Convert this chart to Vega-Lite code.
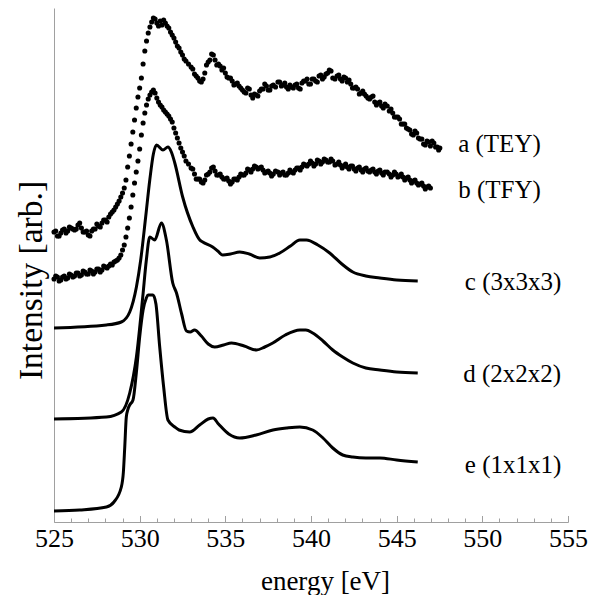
{
"$schema":"https://vega.github.io/schema/vega-lite/v6.json",
"width":514,"height":514,
"autosize":"none",
"padding":{"left":54,"top":8,"right":21,"bottom":73},
"config":{"view":{"stroke":null},"font":"Liberation Serif, Times New Roman, serif","axis":{"grid":false,"labelFont":"Liberation Serif, Times New Roman, serif","titleFont":"Liberation Serif, Times New Roman, serif","titleFontWeight":"normal","titleColor":"black","labelColor":"black","domainColor":"#a0a0a0","tickColor":"#a0a0a0"},"text":{"font":"Liberation Serif, Times New Roman, serif"}},
"datasets":{
"lines":[
{"s":"c","x":525.0,"y":194},{"s":"c","x":528.06,"y":197},{"s":"c","x":528.93,"y":200},{"s":"c","x":529.42,"y":210},{"s":"c","x":529.81,"y":235},{"s":"c","x":530.06,"y":262},{"s":"c","x":530.35,"y":305},{"s":"c","x":530.59,"y":342},{"s":"c","x":530.8,"y":368},{"s":"c","x":530.98,"y":377},{"s":"c","x":531.36,"y":372},{"s":"c","x":531.65,"y":375},{"s":"c","x":531.85,"y":370},{"s":"c","x":532.05,"y":359},{"s":"c","x":532.51,"y":325},{"s":"c","x":533.11,"y":295},{"s":"c","x":533.51,"y":282},{"s":"c","x":533.68,"y":280},{"s":"c","x":534.26,"y":275},{"s":"c","x":534.56,"y":271},{"s":"c","x":534.85,"y":267},{"s":"c","x":535.3,"y":268},{"s":"c","x":535.84,"y":270},{"s":"c","x":536.4,"y":268},{"s":"c","x":537.01,"y":264},{"s":"c","x":537.6,"y":265},{"s":"c","x":538.18,"y":269},{"s":"c","x":538.8,"y":276},{"s":"c","x":539.35,"y":282},{"s":"c","x":539.73,"y":282},{"s":"c","x":540.4,"y":277},{"s":"c","x":541.09,"y":269},{"s":"c","x":541.8,"y":258},{"s":"c","x":542.44,"y":250},{"s":"c","x":543.2,"y":246},{"s":"c","x":544.02,"y":244},{"s":"c","x":545.0,"y":242},{"s":"c","x":546.23,"y":241},
{"s":"d","x":525.0,"y":103},{"s":"d","x":528.06,"y":105},{"s":"d","x":528.93,"y":110},{"s":"d","x":529.42,"y":129},{"s":"d","x":529.81,"y":165},{"s":"d","x":530.18,"y":225},{"s":"d","x":530.39,"y":262},{"s":"d","x":530.59,"y":285},{"s":"d","x":530.88,"y":282},{"s":"d","x":531.27,"y":299},{"s":"d","x":531.56,"y":282},{"s":"d","x":531.93,"y":239},{"s":"d","x":532.15,"y":229},{"s":"d","x":532.45,"y":208},{"s":"d","x":532.73,"y":191},{"s":"d","x":532.95,"y":190},{"s":"d","x":533.2,"y":192},{"s":"d","x":533.6,"y":186},{"s":"d","x":534.0,"y":178},{"s":"d","x":534.38,"y":175},{"s":"d","x":534.9,"y":177},{"s":"d","x":535.36,"y":179},{"s":"d","x":536.1,"y":176},{"s":"d","x":536.82,"y":172},{"s":"d","x":537.3,"y":175},{"s":"d","x":537.77,"y":179},{"s":"d","x":538.5,"y":187},{"s":"d","x":539.35,"y":192},{"s":"d","x":539.7,"y":192},{"s":"d","x":540.1,"y":189},{"s":"d","x":540.7,"y":181},{"s":"d","x":541.27,"y":172},{"s":"d","x":541.85,"y":165},{"s":"d","x":542.44,"y":159},{"s":"d","x":543.2,"y":154},{"s":"d","x":544.02,"y":152},{"s":"d","x":545.0,"y":150},{"s":"d","x":546.23,"y":149},
{"s":"e","x":525.0,"y":11},{"s":"e","x":526.5,"y":12},{"s":"e","x":528.06,"y":15},{"s":"e","x":528.5,"y":20},{"s":"e","x":528.93,"y":35},{"s":"e","x":529.05,"y":50},{"s":"e","x":529.13,"y":75},{"s":"e","x":529.22,"y":105},{"s":"e","x":529.32,"y":113},{"s":"e","x":529.42,"y":117},{"s":"e","x":529.61,"y":122},{"s":"e","x":529.81,"y":150},{"s":"e","x":530.0,"y":185},{"s":"e","x":530.2,"y":212},{"s":"e","x":530.39,"y":224},{"s":"e","x":530.49,"y":227},{"s":"e","x":530.78,"y":227},{"s":"e","x":530.95,"y":218},{"s":"e","x":531.17,"y":175},{"s":"e","x":531.4,"y":135},{"s":"e","x":531.65,"y":102},{"s":"e","x":532.05,"y":95},{"s":"e","x":532.3,"y":92},{"s":"e","x":532.92,"y":90},{"s":"e","x":533.5,"y":97},{"s":"e","x":534.0,"y":103},{"s":"e","x":534.28,"y":104},{"s":"e","x":534.6,"y":98},{"s":"e","x":535.2,"y":88},{"s":"e","x":535.84,"y":84},{"s":"e","x":536.8,"y":87},{"s":"e","x":537.78,"y":92},{"s":"e","x":538.6,"y":94},{"s":"e","x":539.35,"y":95},{"s":"e","x":540.1,"y":92},{"s":"e","x":540.7,"y":84},{"s":"e","x":541.27,"y":74},{"s":"e","x":541.85,"y":67},{"s":"e","x":542.44,"y":65},{"s":"e","x":543.2,"y":64},{"s":"e","x":544.02,"y":64},{"s":"e","x":545.0,"y":62},{"s":"e","x":546.23,"y":60}
],
"dots":[
{"s":"a","x":525.0,"y":290},{"s":"a","x":525.2,"y":286},{"s":"a","x":525.4,"y":289},{"s":"a","x":525.6,"y":293},{"s":"a","x":525.8,"y":291},{"s":"a","x":526.0,"y":294},{"s":"a","x":526.2,"y":292},{"s":"a","x":526.4,"y":297},{"s":"a","x":526.6,"y":294},{"s":"a","x":526.8,"y":290},{"s":"a","x":527.0,"y":287},{"s":"a","x":527.2,"y":291},{"s":"a","x":527.4,"y":293},{"s":"a","x":527.6,"y":296},{"s":"a","x":527.8,"y":299},{"s":"a","x":528.0,"y":302},{"s":"a","x":528.2,"y":305},{"s":"a","x":528.3,"y":308},{"s":"a","x":528.4,"y":310},{"s":"a","x":528.5,"y":312},{"s":"a","x":528.6,"y":315},{"s":"a","x":528.7,"y":318},{"s":"a","x":528.8,"y":321},{"s":"a","x":528.9,"y":325},{"s":"a","x":529.0,"y":329},{"s":"a","x":529.1,"y":334},{"s":"a","x":529.2,"y":342},{"s":"a","x":529.3,"y":355},{"s":"a","x":529.4,"y":366},{"s":"a","x":529.5,"y":378},{"s":"a","x":529.6,"y":390},{"s":"a","x":529.7,"y":402},{"s":"a","x":529.8,"y":414},{"s":"a","x":529.9,"y":425},{"s":"a","x":530.0,"y":434},{"s":"a","x":530.1,"y":444},{"s":"a","x":530.2,"y":458},{"s":"a","x":530.3,"y":471},{"s":"a","x":530.4,"y":481},{"s":"a","x":530.5,"y":489},{"s":"a","x":530.6,"y":495},{"s":"a","x":530.7,"y":500},{"s":"a","x":530.8,"y":504},{"s":"a","x":530.9,"y":503},{"s":"a","x":531.0,"y":499},{"s":"a","x":531.1,"y":496},{"s":"a","x":531.2,"y":501},{"s":"a","x":531.3,"y":497},{"s":"a","x":531.4,"y":502},{"s":"a","x":531.5,"y":499},{"s":"a","x":531.6,"y":496},{"s":"a","x":531.7,"y":494},{"s":"a","x":531.8,"y":490},{"s":"a","x":531.9,"y":487},{"s":"a","x":532.0,"y":484},{"s":"a","x":532.1,"y":480},{"s":"a","x":532.2,"y":476},{"s":"a","x":532.3,"y":474},{"s":"a","x":532.4,"y":470},{"s":"a","x":532.5,"y":467},{"s":"a","x":532.6,"y":463},{"s":"a","x":532.7,"y":461},
{"s":"a","x":533.0,"y":455},{"s":"a","x":533.2,"y":448},{"s":"a","x":533.4,"y":444},{"s":"a","x":533.6,"y":440},{"s":"a","x":533.8,"y":449},{"s":"a","x":534.0,"y":460},{"s":"a","x":534.2,"y":468},{"s":"a","x":534.4,"y":462},{"s":"a","x":534.6,"y":458},{"s":"a","x":534.8,"y":452},{"s":"a","x":535.0,"y":449},{"s":"a","x":535.2,"y":444},{"s":"a","x":535.4,"y":441},{"s":"a","x":535.6,"y":438},{"s":"a","x":535.8,"y":436},{"s":"a","x":536.0,"y":432},{"s":"a","x":536.2,"y":429},{"s":"a","x":536.4,"y":433},{"s":"a","x":536.6,"y":424},{"s":"a","x":536.8,"y":427},{"s":"a","x":537.0,"y":431},{"s":"a","x":537.2,"y":433},{"s":"a","x":537.4,"y":436},{"s":"a","x":537.6,"y":432},{"s":"a","x":537.8,"y":437},
{"s":"a","x":538.07,"y":440},{"s":"a","x":538.27,"y":436},{"s":"a","x":538.47,"y":439},{"s":"a","x":538.67,"y":433},{"s":"a","x":538.87,"y":435},{"s":"a","x":539.07,"y":437},{"s":"a","x":539.27,"y":434},{"s":"a","x":539.47,"y":439},{"s":"a","x":539.67,"y":441},{"s":"a","x":539.87,"y":438},{"s":"a","x":540.07,"y":443},{"s":"a","x":540.27,"y":441},{"s":"a","x":540.47,"y":446},{"s":"a","x":540.67,"y":443},{"s":"a","x":540.87,"y":448},{"s":"a","x":541.07,"y":452},{"s":"a","x":541.27,"y":444},
{"s":"a","x":541.52,"y":446},{"s":"a","x":541.72,"y":443},{"s":"a","x":541.92,"y":445},{"s":"a","x":542.12,"y":440},{"s":"a","x":542.32,"y":438},{"s":"a","x":542.52,"y":434},{"s":"a","x":542.72,"y":433},{"s":"a","x":542.92,"y":429},{"s":"a","x":543.12,"y":428},{"s":"a","x":543.32,"y":424},{"s":"a","x":543.52,"y":425},{"s":"a","x":543.72,"y":420},{"s":"a","x":543.92,"y":419},{"s":"a","x":544.12,"y":416},{"s":"a","x":544.32,"y":418},
{"s":"a","x":544.57,"y":411},{"s":"a","x":544.77,"y":409},{"s":"a","x":544.97,"y":405},{"s":"a","x":545.17,"y":403},{"s":"a","x":545.37,"y":398},{"s":"a","x":545.57,"y":394},{"s":"a","x":545.77,"y":392},{"s":"a","x":545.97,"y":387},{"s":"a","x":546.17,"y":389},{"s":"a","x":546.37,"y":383},{"s":"a","x":546.57,"y":378},{"s":"a","x":546.77,"y":381},{"s":"a","x":546.97,"y":376},{"s":"a","x":547.17,"y":379},{"s":"a","x":547.37,"y":375},{"s":"a","x":547.52,"y":374},
{"s":"a","x":525.1,"y":291},{"s":"a","x":525.3,"y":286},{"s":"a","x":525.5,"y":292},{"s":"a","x":525.7,"y":289},{"s":"a","x":525.9,"y":295},{"s":"a","x":526.1,"y":293},{"s":"a","x":526.3,"y":293},{"s":"a","x":526.5,"y":299},{"s":"a","x":526.7,"y":290},{"s":"a","x":526.9,"y":291},{"s":"a","x":527.1,"y":286},{"s":"a","x":527.3,"y":293},{"s":"a","x":527.5,"y":298},{"s":"a","x":527.7,"y":295},{"s":"a","x":527.9,"y":302},{"s":"a","x":528.1,"y":300},
{"s":"a","x":532.85,"y":458},{"s":"a","x":533.1,"y":453},{"s":"a","x":533.3,"y":446},{"s":"a","x":533.5,"y":441},{"s":"a","x":533.7,"y":443},{"s":"a","x":533.9,"y":457},{"s":"a","x":534.1,"y":462},{"s":"a","x":534.3,"y":467},{"s":"a","x":534.5,"y":457},{"s":"a","x":534.7,"y":456},{"s":"a","x":534.9,"y":454},{"s":"a","x":535.1,"y":445},{"s":"a","x":535.3,"y":444},{"s":"a","x":535.5,"y":437},{"s":"a","x":535.7,"y":439},{"s":"a","x":535.9,"y":434},{"s":"a","x":536.1,"y":430},{"s":"a","x":536.3,"y":434},{"s":"a","x":536.5,"y":427},{"s":"a","x":536.7,"y":428},{"s":"a","x":536.9,"y":426},{"s":"a","x":537.1,"y":433},{"s":"a","x":537.3,"y":438},{"s":"a","x":537.5,"y":432},{"s":"a","x":537.7,"y":436},{"s":"a","x":537.93,"y":435},
{"s":"a","x":538.17,"y":440},{"s":"a","x":538.37,"y":437},{"s":"a","x":538.57,"y":435},{"s":"a","x":538.77,"y":437},{"s":"a","x":538.97,"y":434},{"s":"a","x":539.17,"y":438},{"s":"a","x":539.37,"y":433},{"s":"a","x":539.57,"y":441},{"s":"a","x":539.77,"y":443},{"s":"a","x":539.97,"y":438},{"s":"a","x":540.17,"y":443},{"s":"a","x":540.37,"y":440},{"s":"a","x":540.57,"y":447},{"s":"a","x":540.77,"y":445},{"s":"a","x":540.97,"y":449},{"s":"a","x":541.17,"y":451},{"s":"a","x":541.4,"y":443},
{"s":"a","x":541.62,"y":447},{"s":"a","x":541.82,"y":441},{"s":"a","x":542.02,"y":444},{"s":"a","x":542.22,"y":442},{"s":"a","x":542.42,"y":434},{"s":"a","x":542.62,"y":435},{"s":"a","x":542.82,"y":428},{"s":"a","x":543.02,"y":431},{"s":"a","x":543.22,"y":426},{"s":"a","x":543.42,"y":423},{"s":"a","x":543.62,"y":426},{"s":"a","x":543.82,"y":417},{"s":"a","x":544.02,"y":420},{"s":"a","x":544.22,"y":414},{"s":"a","x":544.45,"y":416},
{"s":"a","x":544.67,"y":413},{"s":"a","x":544.87,"y":405},{"s":"a","x":545.07,"y":405},{"s":"a","x":545.27,"y":398},{"s":"a","x":545.47,"y":398},{"s":"a","x":545.67,"y":393},{"s":"a","x":545.87,"y":388},{"s":"a","x":546.07,"y":391},{"s":"a","x":546.27,"y":384},{"s":"a","x":546.47,"y":383},{"s":"a","x":546.67,"y":377},{"s":"a","x":546.87,"y":380},{"s":"a","x":547.07,"y":381},{"s":"a","x":547.27,"y":375},{"s":"a","x":547.45,"y":372},
{"s":"b","x":525.0,"y":243},{"s":"b","x":525.2,"y":245},{"s":"b","x":525.4,"y":242},{"s":"b","x":525.6,"y":246},{"s":"b","x":525.8,"y":244},{"s":"b","x":526.0,"y":247},{"s":"b","x":526.2,"y":246},{"s":"b","x":526.4,"y":249},{"s":"b","x":526.6,"y":247},{"s":"b","x":526.8,"y":250},{"s":"b","x":527.0,"y":248},{"s":"b","x":527.2,"y":251},{"s":"b","x":527.4,"y":250},{"s":"b","x":527.6,"y":253},{"s":"b","x":527.8,"y":252},{"s":"b","x":528.0,"y":255},{"s":"b","x":528.2,"y":256},{"s":"b","x":528.3,"y":258},{"s":"b","x":528.4,"y":257},{"s":"b","x":528.5,"y":260},{"s":"b","x":528.6,"y":261},{"s":"b","x":528.7,"y":262},{"s":"b","x":528.8,"y":264},{"s":"b","x":528.9,"y":267},{"s":"b","x":529.0,"y":272},{"s":"b","x":529.1,"y":277},{"s":"b","x":529.2,"y":285},{"s":"b","x":529.3,"y":294},{"s":"b","x":529.4,"y":304},{"s":"b","x":529.5,"y":315},{"s":"b","x":529.6,"y":327},{"s":"b","x":529.7,"y":339},{"s":"b","x":529.8,"y":350},{"s":"b","x":529.9,"y":361},{"s":"b","x":530.0,"y":373},{"s":"b","x":530.1,"y":387},{"s":"b","x":530.2,"y":399},{"s":"b","x":530.3,"y":409},{"s":"b","x":530.4,"y":417},{"s":"b","x":530.5,"y":423},{"s":"b","x":530.6,"y":427},{"s":"b","x":530.7,"y":430},{"s":"b","x":530.8,"y":432},{"s":"b","x":530.9,"y":429},{"s":"b","x":531.0,"y":424},{"s":"b","x":531.1,"y":420},{"s":"b","x":531.2,"y":417},{"s":"b","x":531.3,"y":415},{"s":"b","x":531.4,"y":412},{"s":"b","x":531.5,"y":410},{"s":"b","x":531.6,"y":408},{"s":"b","x":531.7,"y":406},{"s":"b","x":531.8,"y":403},{"s":"b","x":531.9,"y":400},{"s":"b","x":532.0,"y":394},{"s":"b","x":532.1,"y":389},{"s":"b","x":532.2,"y":384},{"s":"b","x":532.3,"y":379},{"s":"b","x":532.4,"y":374},{"s":"b","x":532.5,"y":370},{"s":"b","x":532.6,"y":366},{"s":"b","x":532.7,"y":361},
{"s":"b","x":533.0,"y":354},{"s":"b","x":533.2,"y":348},{"s":"b","x":533.4,"y":343},{"s":"b","x":533.6,"y":340},{"s":"b","x":533.8,"y":342},{"s":"b","x":534.0,"y":348},{"s":"b","x":534.2,"y":354},{"s":"b","x":534.4,"y":351},{"s":"b","x":534.6,"y":347},{"s":"b","x":534.8,"y":345},{"s":"b","x":535.0,"y":343},{"s":"b","x":535.2,"y":341},{"s":"b","x":535.4,"y":340},{"s":"b","x":535.6,"y":343},{"s":"b","x":535.8,"y":345},{"s":"b","x":536.0,"y":347},{"s":"b","x":536.2,"y":349},{"s":"b","x":536.4,"y":352},{"s":"b","x":536.6,"y":353},{"s":"b","x":536.8,"y":355},{"s":"b","x":537.0,"y":354},{"s":"b","x":537.2,"y":352},{"s":"b","x":537.4,"y":350},{"s":"b","x":537.6,"y":349},{"s":"b","x":537.8,"y":348},
{"s":"b","x":538.07,"y":350},{"s":"b","x":538.27,"y":349},{"s":"b","x":538.47,"y":347},{"s":"b","x":538.67,"y":349},{"s":"b","x":538.87,"y":350},{"s":"b","x":539.07,"y":352},{"s":"b","x":539.27,"y":354},{"s":"b","x":539.47,"y":355},{"s":"b","x":539.67,"y":357},{"s":"b","x":539.87,"y":358},{"s":"b","x":540.07,"y":359},{"s":"b","x":540.27,"y":358},{"s":"b","x":540.47,"y":361},{"s":"b","x":540.67,"y":360},{"s":"b","x":540.87,"y":362},{"s":"b","x":541.07,"y":360},{"s":"b","x":541.27,"y":361},
{"s":"b","x":541.52,"y":358},{"s":"b","x":541.72,"y":357},{"s":"b","x":541.92,"y":356},{"s":"b","x":542.12,"y":355},{"s":"b","x":542.32,"y":356},{"s":"b","x":542.52,"y":353},{"s":"b","x":542.72,"y":354},{"s":"b","x":542.92,"y":352},{"s":"b","x":543.12,"y":353},{"s":"b","x":543.32,"y":351},{"s":"b","x":543.52,"y":352},{"s":"b","x":543.72,"y":350},{"s":"b","x":543.92,"y":351},{"s":"b","x":544.12,"y":349},{"s":"b","x":544.32,"y":350},
{"s":"b","x":544.57,"y":348},{"s":"b","x":544.77,"y":347},{"s":"b","x":544.97,"y":348},{"s":"b","x":545.17,"y":346},{"s":"b","x":545.37,"y":345},{"s":"b","x":545.57,"y":344},{"s":"b","x":545.77,"y":342},{"s":"b","x":545.97,"y":341},{"s":"b","x":546.17,"y":339},{"s":"b","x":546.37,"y":338},{"s":"b","x":546.57,"y":336},{"s":"b","x":546.77,"y":335},{"s":"b","x":546.97,"y":334},
{"s":"b","x":525.1,"y":246},{"s":"b","x":525.3,"y":241},{"s":"b","x":525.5,"y":245},{"s":"b","x":525.7,"y":243},{"s":"b","x":525.9,"y":248},{"s":"b","x":526.1,"y":245},{"s":"b","x":526.3,"y":249},{"s":"b","x":526.5,"y":246},{"s":"b","x":526.7,"y":251},{"s":"b","x":526.9,"y":248},{"s":"b","x":527.1,"y":252},{"s":"b","x":527.3,"y":248},{"s":"b","x":527.5,"y":253},{"s":"b","x":527.7,"y":250},{"s":"b","x":527.9,"y":256},{"s":"b","x":528.1,"y":254},
{"s":"b","x":532.85,"y":358},{"s":"b","x":533.1,"y":353},{"s":"b","x":533.3,"y":343},{"s":"b","x":533.5,"y":343},{"s":"b","x":533.7,"y":339},{"s":"b","x":533.9,"y":347},{"s":"b","x":534.1,"y":350},{"s":"b","x":534.3,"y":355},{"s":"b","x":534.5,"y":347},{"s":"b","x":534.7,"y":348},{"s":"b","x":534.9,"y":343},{"s":"b","x":535.1,"y":344},{"s":"b","x":535.3,"y":338},{"s":"b","x":535.5,"y":343},{"s":"b","x":535.7,"y":342},{"s":"b","x":535.9,"y":348},{"s":"b","x":536.1,"y":347},{"s":"b","x":536.3,"y":353},{"s":"b","x":536.5,"y":350},{"s":"b","x":536.7,"y":356},{"s":"b","x":536.9,"y":353},{"s":"b","x":537.1,"y":355},{"s":"b","x":537.3,"y":349},{"s":"b","x":537.5,"y":351},{"s":"b","x":537.7,"y":346},{"s":"b","x":537.93,"y":351},
{"s":"b","x":538.17,"y":347},{"s":"b","x":538.37,"y":350},{"s":"b","x":538.57,"y":347},{"s":"b","x":538.77,"y":352},{"s":"b","x":538.97,"y":349},{"s":"b","x":539.17,"y":354},{"s":"b","x":539.37,"y":352},{"s":"b","x":539.57,"y":358},{"s":"b","x":539.77,"y":356},{"s":"b","x":539.97,"y":361},{"s":"b","x":540.17,"y":356},{"s":"b","x":540.37,"y":362},{"s":"b","x":540.57,"y":358},{"s":"b","x":540.77,"y":363},{"s":"b","x":540.97,"y":360},{"s":"b","x":541.17,"y":363},{"s":"b","x":541.4,"y":357},
{"s":"b","x":541.62,"y":360},{"s":"b","x":541.82,"y":354},{"s":"b","x":542.02,"y":358},{"s":"b","x":542.22,"y":353},{"s":"b","x":542.42,"y":356},{"s":"b","x":542.62,"y":351},{"s":"b","x":542.82,"y":355},{"s":"b","x":543.02,"y":350},{"s":"b","x":543.22,"y":354},{"s":"b","x":543.42,"y":350},{"s":"b","x":543.62,"y":353},{"s":"b","x":543.82,"y":348},{"s":"b","x":544.02,"y":352},{"s":"b","x":544.22,"y":347},{"s":"b","x":544.45,"y":350},
{"s":"b","x":544.67,"y":345},{"s":"b","x":544.87,"y":350},{"s":"b","x":545.07,"y":345},{"s":"b","x":545.27,"y":348},{"s":"b","x":545.47,"y":342},{"s":"b","x":545.67,"y":345},{"s":"b","x":545.87,"y":339},{"s":"b","x":546.07,"y":342},{"s":"b","x":546.27,"y":337},{"s":"b","x":546.47,"y":339},{"s":"b","x":546.67,"y":333},{"s":"b","x":546.87,"y":336}
],
"labels":[
{"x":548.59,"y":370,"t":"a (TEY)"},
{"x":548.59,"y":323.7,"t":"b (TFY)"},
{"x":548.98,"y":232,"t":"c (3x3x3)"},
{"x":548.88,"y":140.3,"t":"d (2x2x2)"},
{"x":548.98,"y":48.7,"t":"e (1x1x1)"}
]
},
"resolve":{"axis":{"x":"independent"}},
"layer":[
{"data":{"name":"lines"},
 "mark":{"type":"line","color":"black","strokeWidth":3,"interpolate":"monotone"},
 "encoding":{
  "x":{"field":"x","type":"quantitative","scale":{"domain":[525,555],"nice":false,"zero":false},
       "axis":{"orient":"bottom","values":[525,530,535,540,545,550,555],"format":"d","tickSize":-6.5,"labelPadding":31,"labelBaseline":"alphabetic","labelFontSize":26,"labelFlush":false,"labelOverlap":false,"labelBound":false,"title":"energy [eV]","titleFontSize":27,"titleBaseline":"alphabetic","titleAlign":"center","titleAnchor":null,"titleX":271,"titleY":67}},
  "y":{"field":"y","type":"quantitative","scale":{"domain":[0,514],"nice":false,"zero":false},
       "axis":{"ticks":false,"labels":false,"title":"Intensity [arb.]","titleFontSize":33.5,"titleBaseline":"alphabetic","titleAlign":"center","titleAngle":270,"titleX":-12.6,"titleY":272}},
  "detail":{"field":"s","type":"nominal"}
 }},
{"data":{"name":"dots"},
 "mark":{"type":"circle","color":"black","size":26,"opacity":1},
 "encoding":{
  "x":{"field":"x","type":"quantitative","axis":{"orient":"bottom","values":[526,527,528,529,531,532,533,534,536,537,538,539,541,542,543,544,546,547,548,549,551,552,553,554],"tickSize":-4,"labels":false,"domain":false,"title":null}},
  "y":{"field":"y","type":"quantitative","axis":{"ticks":false,"labels":false,"title":"Intensity [arb.]","titleFontSize":33.5,"titleBaseline":"alphabetic","titleAlign":"center","titleAngle":270,"titleX":-12.6,"titleY":272}}
 }},
{"data":{"name":"labels"},
 "mark":{"type":"text","align":"left","baseline":"alphabetic","fontSize":25,"font":"Liberation Serif, Times New Roman, serif","color":"black"},
 "encoding":{
  "x":{"field":"x","type":"quantitative","axis":null},
  "y":{"field":"y","type":"quantitative","axis":{"ticks":false,"labels":false,"title":"Intensity [arb.]","titleFontSize":33.5,"titleBaseline":"alphabetic","titleAlign":"center","titleAngle":270,"titleX":-12.6,"titleY":272}},
  "text":{"field":"t","type":"nominal"}
 }}
]
}
